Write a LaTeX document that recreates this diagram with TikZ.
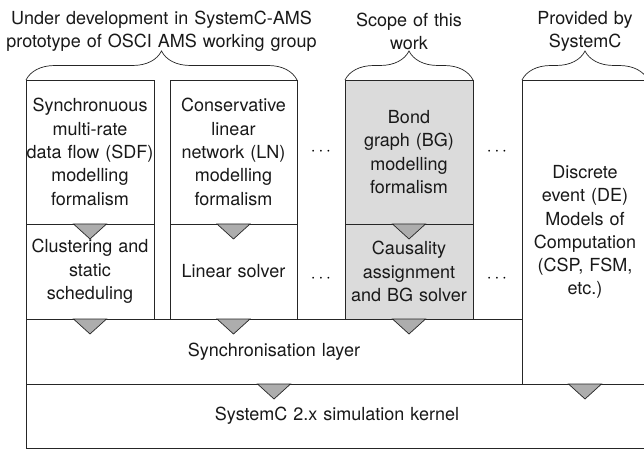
\documentclass[tikz,border=0pt]{standalone}
\usepackage{fontspec}
\setmainfont{TeX Gyre Heros}
\usetikzlibrary{decorations.pathreplacing,calc}
\tikzset{
  txt/.style={font=\fontsize{18bp}{23.3bp}\selectfont, align=center, text=black!90, text width=#1},
  txt/.default=128bp,
  box/.style={draw=black!85, line width=0.8bp, inner sep=0pt, outer sep=0pt, txt},
  bgbox/.style={box, fill=black!14},
  tri/.style={draw=black!85, fill=black!32, line width=0.7bp, line join=miter},
  brc/.style={draw=black!85, line width=0.7bp, decorate, decoration={brace, amplitude=29bp}},
  dotsnode/.style={font=\fontsize{18bp}{23bp}\selectfont}
}
\newcommand\mytri[1]{\filldraw[tri] ($(#1)+(-16.5,0)$) -- ($(#1)+(16.5,0)$) -- ($(#1)+(0,15)$) -- cycle;}
\begin{document}
\begin{tikzpicture}[x=1bp,y=-1bp]
\useasboundingbox (0,0) rectangle (644,449);
\fill[white] (0,0) rectangle (644,449);
% kernel and sync layer
\node[box, txt=400bp, minimum width=622bp, minimum height=64bp] (kern) at (337,416) {SystemC 2.x simulation kernel};
\node[box, txt=400bp, minimum width=496bp, minimum height=65bp] (sync) at (274,351.5) {Synchronisation layer};
% DE box
\node[box, txt=126bp, minimum width=126bp, minimum height=304bp] (de) at (585,232) {Discrete\\event (DE)\\Models of\\Computation\\(CSP, FSM,\\etc.)};
% SDF
\node[box, minimum width=128bp, minimum height=144bp] (sdf) at (90,152) {Synchronuous\\multi-rate\\data flow (SDF)\\modelling\\formalism};
\node[box, minimum width=128bp, minimum height=95bp] (sdfs) at (90,271.5) {Clustering and\\static\\scheduling};
% LN
\node[box, txt=127bp, minimum width=127bp, minimum height=144bp] (ln) at (233.5,152) {Conservative\\linear\\network (LN)\\modelling\\formalism};
\node[box, txt=127bp, minimum width=127bp, minimum height=95bp] (lns) at (233.5,271.5) {Linear solver};
% BG
\node[bgbox, minimum width=128bp, minimum height=144bp] (bg) at (409,152) {Bond\\graph (BG)\\modelling\\formalism};
\node[bgbox, minimum width=128bp, minimum height=95bp] (bgs) at (409,271.5) {Causality\\assignment\\and BG solver};
% triangles
\mytri{sdf.south}
\mytri{ln.south}
\mytri{bg.south}
\mytri{sdfs.south}
\mytri{lns.south}
\mytri{bgs.south}
\mytri{sync.south}
\mytri{de.south}
% dots
\node[dotsnode] (d1) at (321,152) {$\cdots$};
\node[dotsnode] (d2) at (497,152) {$\cdots$};
\node[dotsnode] (d3) at (321,279) {$\cdots$};
\node[dotsnode] (d4) at (497,279) {$\cdots$};
% braces
\draw[brc] (sdf.north west) -- (ln.north east);
\draw[brc] (bg.north west) -- (bg.north east);
\draw[brc] (de.north west) -- (de.north east);
\node[txt=320bp] (t1) at (161.5,31.5) {Under development in SystemC-AMS\\prototype of OSCI AMS working group};
\node[txt=150bp] (t2) at (409,31.5) {Scope of this\\work};
\node[txt=150bp] (t3) at (585,31.5) {Provided by\\SystemC};
\end{tikzpicture}
\end{document}
